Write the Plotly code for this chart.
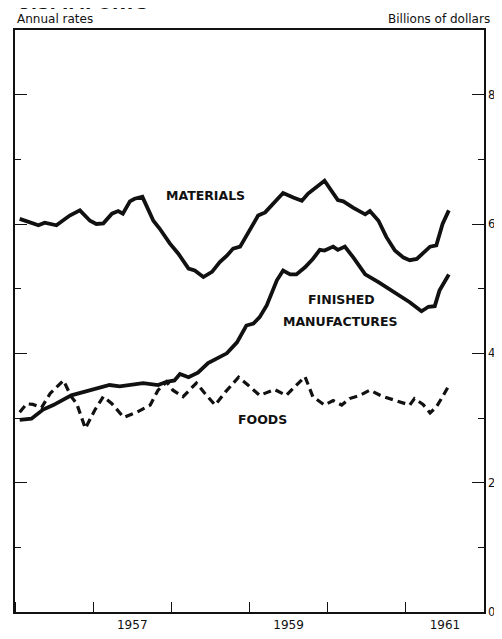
import plotly.graph_objects as go

# ---- data; x in decimal years, y in billions of dollars (annual rates)
materials_x = [1956.06, 1956.30, 1956.38, 1956.53, 1956.70, 1956.83, 1956.96, 1957.04, 1957.13,
               1957.24, 1957.32, 1957.38, 1957.47, 1957.53, 1957.63, 1957.68, 1957.77, 1957.85,
               1957.98, 1958.09, 1958.22, 1958.30, 1958.41, 1958.52, 1958.62, 1958.71, 1958.79,
               1958.88, 1958.98, 1959.11, 1959.20, 1959.30, 1959.43, 1959.56, 1959.67, 1959.75,
               1959.88, 1959.96, 1960.13, 1960.20, 1960.33, 1960.48, 1960.54, 1960.65, 1960.75,
               1960.86, 1960.97, 1961.05, 1961.14, 1961.22, 1961.31, 1961.39, 1961.43, 1961.47,
               1961.55]
materials_y = [6.08, 5.98, 6.02, 5.98, 6.13, 6.21, 6.05, 6.00, 6.01,
               6.16, 6.20, 6.16, 6.35, 6.39, 6.42, 6.29, 6.05, 5.93,
               5.70, 5.54, 5.31, 5.28, 5.18, 5.26, 5.41, 5.51, 5.62,
               5.65, 5.87, 6.13, 6.18, 6.31, 6.48, 6.41, 6.36, 6.47,
               6.59, 6.67, 6.37, 6.35, 6.25, 6.15, 6.20, 6.05, 5.80,
               5.59, 5.48, 5.44, 5.46, 5.55, 5.65, 5.67, 5.85, 6.00,
               6.21]

finished_x = [1956.06, 1956.21, 1956.36, 1956.49, 1956.72, 1956.96, 1957.21, 1957.34, 1957.51,
              1957.64, 1957.83, 1957.94, 1958.04, 1958.11, 1958.22, 1958.34, 1958.47, 1958.60,
              1958.71, 1958.84, 1958.96, 1959.05, 1959.13, 1959.22, 1959.28, 1959.35, 1959.43,
              1959.52, 1959.60, 1959.71, 1959.81, 1959.90, 1959.96, 1960.07, 1960.13, 1960.22,
              1960.33, 1960.48, 1960.65, 1960.92, 1961.05, 1961.20, 1961.29, 1961.37, 1961.43,
              1961.55]
finished_y = [2.97, 2.99, 3.13, 3.20, 3.35, 3.43, 3.51, 3.49, 3.52,
              3.54, 3.51, 3.56, 3.58, 3.68, 3.63, 3.70, 3.85, 3.94,
              4.00, 4.17, 4.43, 4.46, 4.56, 4.74, 4.92, 5.13, 5.28,
              5.22, 5.22, 5.33, 5.46, 5.60, 5.59, 5.65, 5.60, 5.65,
              5.48, 5.22, 5.10, 4.90, 4.79, 4.65, 4.72, 4.73, 4.97,
              5.22]

foods_x = [1956.06, 1956.15, 1956.23, 1956.34, 1956.45, 1956.62, 1956.72, 1956.79, 1956.90,
           1957.02, 1957.13, 1957.24, 1957.39, 1957.56, 1957.73, 1957.83, 1957.94, 1958.02,
           1958.15, 1958.32, 1958.43, 1958.56, 1958.69, 1958.86, 1958.98, 1959.13, 1959.32,
           1959.47, 1959.71, 1959.81, 1959.96, 1960.07, 1960.18, 1960.28, 1960.41, 1960.54,
           1960.69, 1960.84, 1961.05, 1961.11, 1961.22, 1961.31, 1961.39, 1961.47, 1961.54]
foods_y = [3.09, 3.22, 3.21, 3.16, 3.38, 3.58, 3.33, 3.22, 2.84,
           3.12, 3.33, 3.22, 3.01, 3.09, 3.20, 3.43, 3.56, 3.43,
           3.33, 3.54, 3.38, 3.20, 3.40, 3.63, 3.51, 3.35, 3.44,
           3.35, 3.64, 3.33, 3.20, 3.27, 3.20, 3.30, 3.35, 3.43,
           3.34, 3.28, 3.20, 3.30, 3.21, 3.08, 3.17, 3.33, 3.48]

year_ticks = [1957.5, 1959.5, 1961.5]
year_labels = ["1957", "1959", "1961"]
value_ticks = [0, 2, 4, 6, 8]

INK = "#111111"
BOLD = "DejaVu Sans"

fig = go.Figure()
fig.add_trace(go.Scatter(x=materials_x, y=materials_y, mode="lines",
                         line=dict(color=INK, width=3.8), hoverinfo="skip"))
fig.add_trace(go.Scatter(x=finished_x, y=finished_y, mode="lines",
                         line=dict(color=INK, width=3.8), hoverinfo="skip"))
fig.add_trace(go.Scatter(x=foods_x, y=foods_y, mode="lines",
                         line=dict(color=INK, width=3.2, dash="8px,5px"), hoverinfo="skip"))

ann_font = dict(family=BOLD, size=12.5, color=INK)
fig.add_annotation(x=1958.44, y=6.44, text="<b>MATERIALS</b>", showarrow=False, font=ann_font)
fig.add_annotation(x=1960.18, y=4.83, text="<b>FINISHED</b>", showarrow=False, font=ann_font)
fig.add_annotation(x=1960.17, y=4.49, text="<b>MANUFACTURES</b>", showarrow=False, font=ann_font)
fig.add_annotation(x=1959.17, y=2.97, text="<b>FOODS</b>", showarrow=False, font=ann_font)

fig.add_annotation(xref="paper", yref="paper", x=0, y=1.019, xanchor="left", yanchor="middle",
                   text="Annual rates", showarrow=False,
                   font=dict(family="DejaVu Sans", size=12, color=INK))
fig.add_annotation(xref="paper", yref="paper", x=1.017, y=1.019, xanchor="right", yanchor="middle",
                   text="Billions of dollars", showarrow=False,
                   font=dict(family="DejaVu Sans", size=12, color=INK))
fig.add_annotation(xref="paper", yref="paper", x=0, y=1.0255, xanchor="left", yanchor="bottom",
                   text="<b>U.S. IMPORTS</b>", showarrow=False,
                   font=dict(family=BOLD, size=17, color=INK))

# the page body adds an 8px offset, so the figure is shrunk and margins shifted
fig.update_layout(
    width=494, height=623,
    margin=dict(l=7, r=18, t=22, b=19, autoexpand=False),
    paper_bgcolor="white", plot_bgcolor="white",
    showlegend=False,
    xaxis=dict(range=[1956, 1962], showgrid=False, zeroline=False,
               tickvals=year_ticks, ticktext=year_labels, ticks="",
               tickfont=dict(family=BOLD, size=12, color=INK),
               showline=True, linecolor=INK, linewidth=1.5, mirror=True,
               minor=dict(tick0=1957, dtick=1, ticks="inside", ticklen=10,
                          tickcolor=INK, tickwidth=1.2),
               ticklabelstandoff=1, ticklabeloverflow="allow",
               automargin=False, fixedrange=True),
    yaxis=dict(range=[0, 9], side="right", showgrid=False, zeroline=False,
               tickvals=value_ticks, ticks="inside", ticklen=12, tickwidth=1.2, tickcolor=INK,
               tickfont=dict(family=BOLD, size=11.5, color=INK),
               showline=True, linecolor=INK, linewidth=1.5, mirror="ticks",
               minor=dict(dtick=1, ticks="inside", ticklen=6, tickcolor=INK, tickwidth=1.2),
               ticklabelstandoff=0, ticklabeloverflow="allow",
               automargin=False, fixedrange=True),
)
fig.update_xaxes(tickprefix="<b>", ticksuffix="</b>")
fig.update_yaxes(tickprefix="<b>", ticksuffix="</b>")

fig.write_html("out.html")
